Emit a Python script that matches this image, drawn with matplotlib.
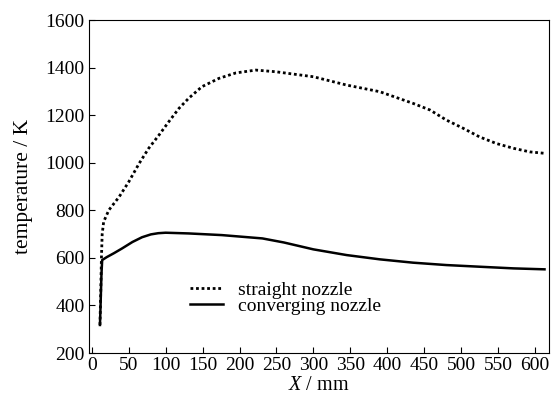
import matplotlib.pyplot as plt
import numpy as np

plt.rcParams['font.family'] = ['Liberation Serif', 'DejaVu Serif']
plt.rcParams['mathtext.fontset'] = 'custom'
plt.rcParams['mathtext.it'] = 'Liberation Serif:italic'
plt.rcParams['mathtext.rm'] = 'Liberation Serif'

# straight nozzle
x_straight = [11, 12, 13, 14, 16, 23, 37, 50, 64, 77, 91, 104, 118, 131, 149, 172, 195, 222, 249,
              300, 345, 390, 435, 458, 480, 503, 525, 548, 571, 593, 613]
t_straight = [318, 450, 600, 700, 752, 801, 857, 920, 997, 1061, 1117, 1172, 1229, 1271, 1320, 1355,
              1378, 1390, 1383, 1362, 1327, 1299, 1250, 1222, 1180, 1145, 1109, 1081, 1061, 1046, 1040]

# converging nozzle
x_conv = [11, 12, 13, 14, 20, 30, 41, 55, 68, 80, 90, 100, 131, 176, 231, 260, 300, 345, 390, 435, 480,
          525, 571, 613]
t_conv = [318, 420, 530, 591, 603, 620, 640, 667, 687, 699, 704, 706, 703, 696, 682, 665, 636, 612, 594,
          580, 570, 563, 556, 552]

fig = plt.figure(figsize=(5.59, 4.03), dpi=100)
ax = fig.add_axes([0.159, 0.124, 0.823, 0.826])
ax.plot(x_straight, t_straight, color='black', linestyle=(0, (1, 1)), linewidth=2, label='straight nozzle')
ax.plot(x_conv, t_conv, color='black', linestyle='-', linewidth=1.8, label='converging nozzle')

ax.set_xlim(-4, 619)
ax.set_ylim(200, 1600)
ax.set_xticks(np.arange(0, 601, 50))
ax.set_yticks(np.arange(200, 1601, 200))
ax.tick_params(direction='in', labelsize=14, length=4, width=0.8, pad=3)
for s in ax.spines.values():
    s.set_linewidth(0.8)

ax.set_xlabel(r'$X$ / mm', fontsize=14.5, labelpad=1)
ax.set_ylabel('temperature / K', fontsize=15.5, labelpad=9)

ax.legend(loc='upper left', bbox_to_anchor=(0.22, 0.215), frameon=False, fontsize=14,
          handlelength=1.7, handletextpad=0.75, labelspacing=-0.1, borderaxespad=0, borderpad=0)

fig.savefig('out.png', dpi=100)
